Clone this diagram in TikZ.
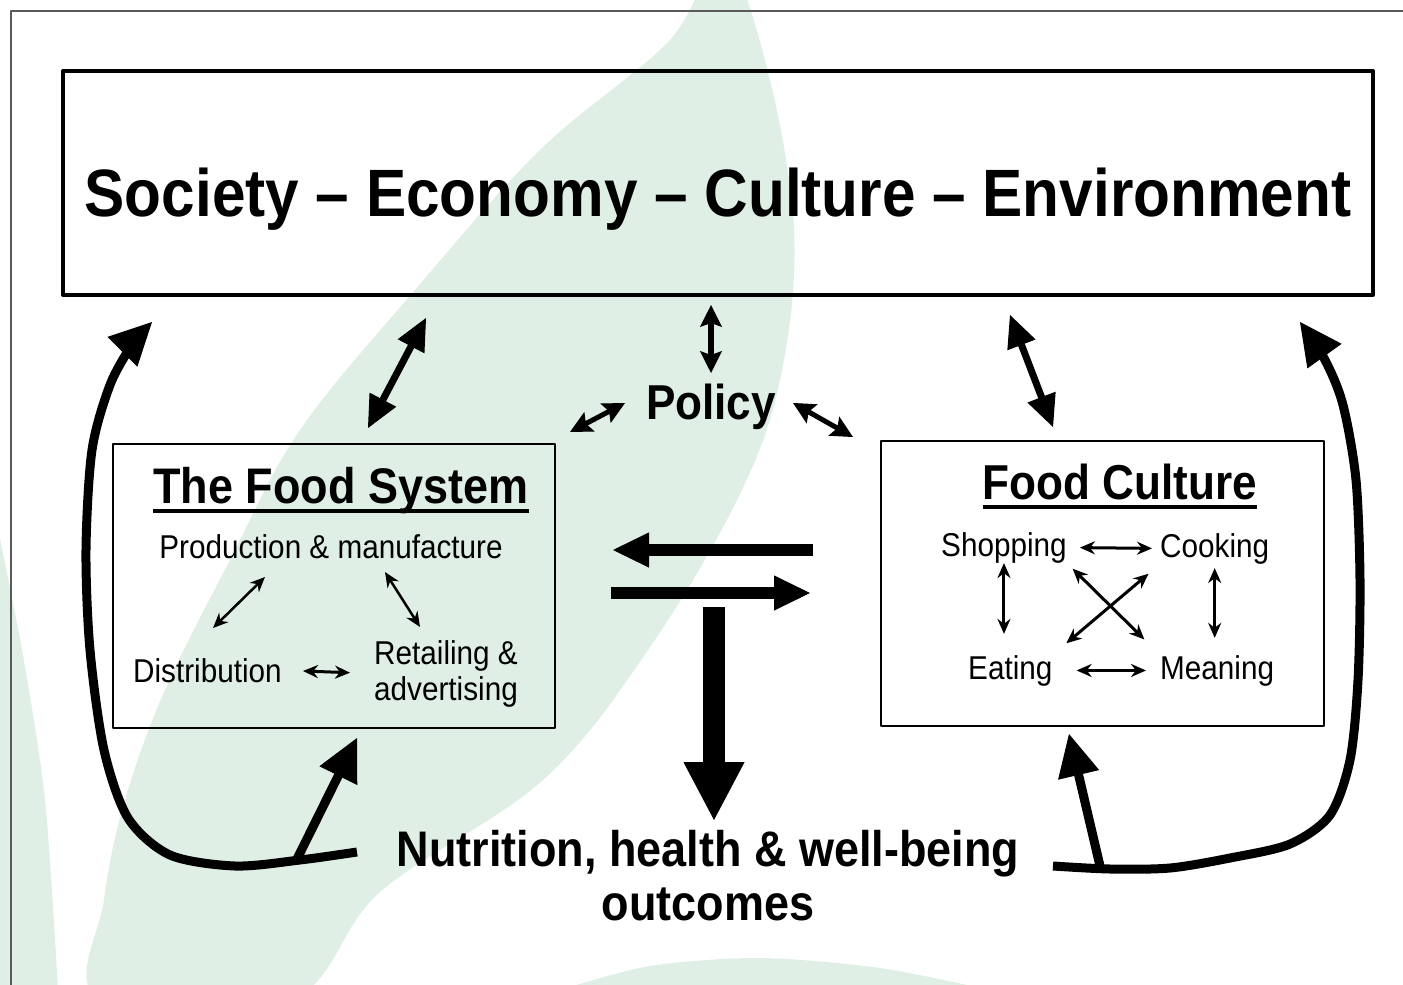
\documentclass[tikz,border=0pt]{standalone}
\usepackage{fontspec}
\setmainfont[FakeStretch=0.9]{Liberation Sans}
\usetikzlibrary{arrows.meta}
\definecolor{leafgreen}{RGB}{223,239,229}
\definecolor{framegray}{RGB}{90,90,90}

\begin{document}
\begin{tikzpicture}[x=1pt,y=-1pt,line join=round,
    txt/.style={inner sep=0pt,anchor=base,font=\fontsize{33}{36}\selectfont},
    head/.style={inner sep=0pt,anchor=base,font=\bfseries\fontsize{49}{54}\selectfont},
    panel/.style={draw,line width=1.5pt,inner sep=0pt},
    smallarr/.style={line width=2.5pt,{Stealth[length=15pt,width=13pt]}-{Stealth[length=15pt,width=13pt]}},
    medarr/.style={line width=5pt,{Stealth[length=22pt,width=22pt,inset=4pt,line width=1pt]}-{Stealth[length=22pt,width=22pt,inset=4pt,line width=1pt]}},
    fatarr/.style={line width=7pt,{Triangle[length=32pt,width=30pt,line width=1pt]}-{Triangle[length=32pt,width=30pt,line width=1pt]}},
    flow/.style={line width=12pt,-{Triangle[length=36pt,width=35pt,line width=1pt]}},
    backline/.style={line width=9pt,-{Triangle[length=42pt,width=42pt,line width=1pt]}}]
  \useasboundingbox (0,0) rectangle (1403,985);
  % leaves in the background
  \begin{scope}
    \clip (0,0) rectangle (1403,985);
    \fill[leafgreen] plot[smooth cycle,tension=0.6] coordinates {(722,-40) (765,60) (794,230) (780,380)
      (737,500) (648,650) (543,780) (380,892) (290,1000) (100,1000) (104,900) (125,800) (165,690)
      (230,560) (300,430) (415,290) (540,150) (668,42)};
    \fill[leafgreen] plot[smooth] coordinates {(-5,515) (22,650) (45,800) (58,990)} -- (-5,990) -- cycle;
    \fill[leafgreen] plot[smooth] coordinates {(560,990) (650,966) (760,958) (880,968) (990,990)} -- cycle;
  \end{scope}
  \draw[framegray,line width=1.5pt] (11,985) -- (11,11) -- (1403,11);

  % top box and policy
  \node[draw,line width=4pt,minimum width=1310,minimum height=224] (soc) at (718,183) {};
  \node[head,font=\bfseries\fontsize{67}{72}\selectfont] (socText) at (718,216) {Society – Economy – Culture – Environment};
  \node[head] (policy) at (711,419) {Policy};

  % the food system
  \node[panel,minimum width=442,minimum height=284] (fs) at (334,586) {};
  \node[head,font=\bfseries\fontsize{50}{54}\selectfont] (fsTitle) at (341,503) {The Food System};
  \draw[line width=3.5pt] ([yshift=-8pt]fsTitle.base west) -- ([yshift=-8pt]fsTitle.base east);
  \node[txt] (prod) at (331,558) {Production \& manufacture};
  \node[txt,anchor=base west] (dist) at (133,682) {Distribution};
  \node[txt,anchor=north west,align=left] (retail) at (374,640) {Retailing \&\\advertising};

  % food culture
  \node[panel,minimum width=443,minimum height=285] (fc) at (1102.5,583.5) {};
  \node[head] (fcTitle) at (1120,499) {Food Culture};
  \draw[line width=3.5pt] ([yshift=-8pt]fcTitle.base west) -- ([yshift=-8pt]fcTitle.base east);
  \node[txt,anchor=base west] (shop) at (941,556) {Shopping};
  \node[txt,anchor=base west] (cook) at (1160,557) {Cooking};
  \node[txt,anchor=base west] (eat) at (968,679) {Eating};
  \node[txt,anchor=base west] (mean) at (1160,679) {Meaning};

  % outcomes
  \node[head,align=center,anchor=north,font=\bfseries\fontsize{50}{54}\selectfont] (nutr) at (708,830)
    {Nutrition, health \& well-being\\outcomes};

  % arrow ends
  \coordinate (pdA) at (213,628); \coordinate (pdB) at (265,577);
  \coordinate (prA) at (385,572); \coordinate (prB) at (420,627);
  \coordinate (fsUpA) at (368,428); \coordinate (fsUpB) at (426,318);
  \coordinate (fcUpA) at (1053,427); \coordinate (fcUpB) at (1010,315);
  \coordinate (polA) at (711,373); \coordinate (polB) at (711,305);
  \coordinate (polLA) at (570,432); \coordinate (polLB) at (625,403);
  \coordinate (polRA) at (793,403); \coordinate (polRB) at (853,437);
  \coordinate (toFsA) at (813,550); \coordinate (toFsB) at (613,550);
  \coordinate (toFcA) at (611,593); \coordinate (toFcB) at (810,593);
  \coordinate (dnA) at (714,607);
  \coordinate (lbA) at (297,859); \coordinate (lbB) at (357,738);
  \coordinate (rbA) at (1100,866); \coordinate (rbB) at (1069,734);

  % inside the boxes
  \draw[smallarr] (pdA) -- (pdB);
  \draw[smallarr] (prA) -- (prB);
  \draw[smallarr,line width=3pt,shorten <=21pt,shorten >=24pt] (dist.east) -- (retail.west);
  \draw[smallarr,line width=3pt,shorten <=13pt,shorten >=8pt] (shop.east) -- (cook.west);
  \draw[smallarr,line width=3pt,shorten <=24pt,shorten >=14pt] (eat.east) -- (mean.west);
  \draw[smallarr,line width=3pt,shorten >=21pt] (shop.south) -- (shop.south |- eat.north);
  \draw[smallarr,line width=3pt,shorten <=4pt,shorten >=17pt] (cook.south) -- (cook.south |- mean.north);
  \draw[smallarr,line width=3pt,shorten <=8pt,shorten >=22pt] (shop.south east) -- (mean.north west);
  \draw[smallarr,line width=3pt,shorten <=15pt,shorten >=18pt] (cook.south west) -- (eat.north east);

  % links to the top box and policy
  \draw[fatarr] (fsUpA) -- (fsUpB);
  \draw[fatarr] (fcUpA) -- (fcUpB);
  \draw[medarr,line width=6pt] (polA) -- (polB);
  \draw[medarr] (polLA) -- (polLB);
  \draw[medarr] (polRA) -- (polRB);

  % between the boxes
  \draw[flow] (toFsA) -- (toFsB);
  \draw[flow] (toFcA) -- (toFcB);
  \draw[line width=22pt,-{Triangle[length=58pt,width=61pt,line width=1pt]},shorten >=10pt] (dnA) -- (dnA |- nutr.north);

  % feedback loops
  \draw[backline] plot[smooth] coordinates {(357,852) (300,860) (235,866) (170,855) (128,818) (104,750)
    (90,650) (86,550) (92,450) (110,385) (132,345) (152,322)};
  \draw[backline] plot[smooth] coordinates {(1053,866) (1110,869) (1170,868) (1230,858) (1290,844)
    (1330,815) (1350,760) (1358,680) (1360,580) (1356,480) (1343,405) (1325,360) (1300,322)};
  \draw[backline] (lbA) -- (lbB);
  \draw[backline] (rbA) -- (rbB);
\end{tikzpicture}
\end{document}
